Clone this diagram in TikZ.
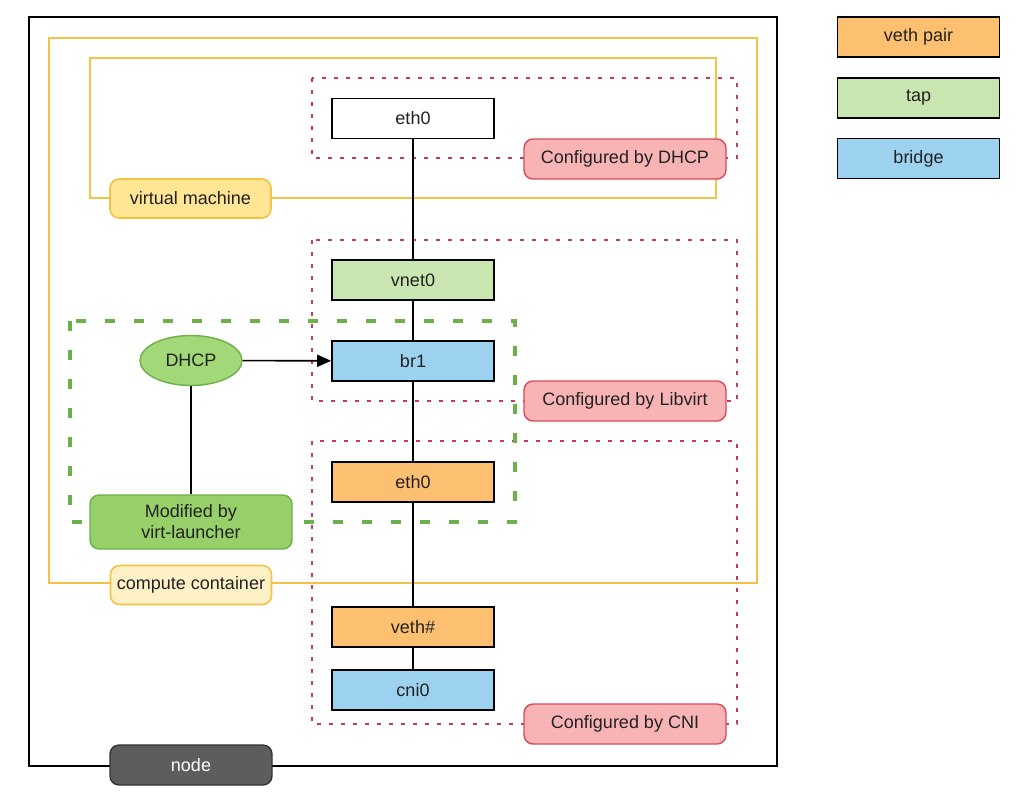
\documentclass[tikz,border=0pt]{standalone}
\usepackage{fontspec}
\setmainfont{Liberation Sans}
\usetikzlibrary{arrows.meta,shapes.geometric}
\definecolor{frameY}{HTML}{F4C244}
\definecolor{lblY}{HTML}{FFE594}
\definecolor{lblY2}{HTML}{FFF1C6}
\definecolor{dotR}{HTML}{C8375C}
\definecolor{pinkF}{HTML}{F8B4B4}
\definecolor{pinkD}{HTML}{D94A5A}
\definecolor{orangeF}{HTML}{FDC070}
\definecolor{tapF}{HTML}{C9E6B1}
\definecolor{blueF}{HTML}{9DD1F0}
\definecolor{greenD}{HTML}{6CB04A}
\definecolor{greenF}{HTML}{A2D877}
\definecolor{greenF2}{HTML}{97D068}
\definecolor{nodeF}{HTML}{5E5C5F}
\definecolor{txt}{HTML}{222222}
\tikzset{
  every node/.style={font=\fontsize{18}{20}\selectfont, text=txt},
  iface/.style={draw=black, line width=1.6pt, minimum width=162pt, minimum height=40pt, inner sep=0pt},
  frame/.style={draw=frameY, line width=1.8pt},
  ylabel/.style={draw=frameY, line width=1.6pt, fill=lblY, rounded corners=9pt, minimum width=161pt, minimum height=39pt, inner sep=0pt},
  cfg/.style={draw=pinkD, line width=1.4pt, fill=pinkF, rounded corners=9pt, minimum width=202pt, minimum height=40pt, inner sep=0pt},
  reddot/.style={draw=dotR, line width=2pt, dash pattern=on 4pt off 8pt},
  link/.style={draw=black, line width=1.6pt},
}
\begin{document}
\begin{tikzpicture}[x=1pt,y=-1pt]
\useasboundingbox (0,0) rectangle (1024,793);
% outer node frame
\draw[black, line width=1.6pt] (29,17) rectangle (777,766);
% compute container frame
\draw[frame] (49,38) rectangle (757,583);
% virtual machine frame
\draw[frame] (90,58) rectangle (716,198);
% red dotted groups
\draw[reddot] (312,78) rectangle (737,158);
\draw[reddot] (312,240) rectangle (737,401);
\draw[reddot] (312,441) rectangle (737,724);
% green dashed group
\draw[greenD, line width=4pt, dash pattern=on 10pt off 19pt] (70,321) rectangle (515,522);

% interfaces
\node[iface, fill=white] (eth0vm) at (413,118.5) {eth0};
\node[iface, fill=tapF] (vnet0) at (413,280) {vnet0};
\node[iface, fill=blueF] (br1) at (413,361) {br1};
\node[iface, fill=orangeF] (eth0c) at (413,482) {eth0};
\node[iface, fill=orangeF] (veth) at (413,627) {veth\#};
\node[iface, fill=blueF] (cni0) at (413,690) {cni0};

% DHCP and modified
\node[ellipse, draw=greenD, line width=1.4pt, fill=greenF, minimum width=102pt, minimum height=50pt, inner sep=0pt] (dhcp) at (191,360.5) {DHCP};
\node[draw=greenD, line width=1.4pt, fill=greenF2, rounded corners=9pt, minimum width=202pt, minimum height=54pt, inner sep=0pt, align=center, font=\fontsize{18}{21}\selectfont] (mod) at (191,522) {Modified by\\virt-launcher};

% connectors
\draw[link] (eth0vm) -- (vnet0);
\draw[link] (vnet0) -- (br1);
\draw[link] (br1) -- (eth0c);
\draw[link] (eth0c) -- (veth);
\draw[link] (veth) -- (cni0);
\draw[link] (dhcp) -- (mod);
\draw[link, -{Triangle[length=14pt,width=12pt]}] (dhcp) -- (br1);

% frame labels
\node[ylabel] (vmlbl) at (190.5,198.5) {virtual machine};
\node[ylabel, fill=lblY2] (cclbl) at (191,585) {compute container};
\node[draw=black!80, line width=1.4pt, fill=nodeF, rounded corners=9pt, minimum width=162pt, minimum height=40pt, inner sep=0pt, text=white] (nodelbl) at (191,765) {node};

% configured labels
\node[cfg] (cfgdhcp) at (625,159) {Configured by DHCP};
\node[cfg] (cfglib) at (625,401) {Configured by Libvirt};
\node[cfg] (cfgcni) at (625,724) {Configured by CNI};

% legend
\node[iface, fill=orangeF, line width=1.4pt] (lgveth) at (918.5,37) {veth pair};
\node[iface, fill=tapF, line width=1.4pt] (lgtap) at (918.5,98) {tap};
\node[iface, fill=blueF, line width=1.4pt] (lgbr) at (918.5,158.5) {bridge};
\end{tikzpicture}
\end{document}
